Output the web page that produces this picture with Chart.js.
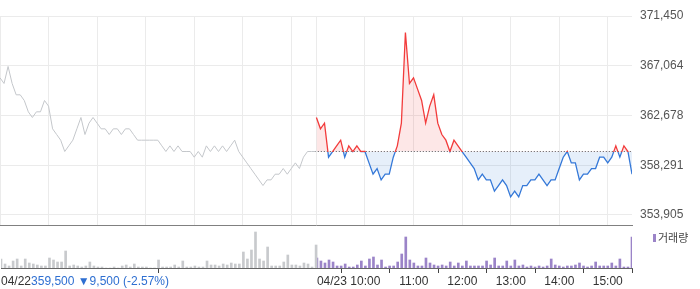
<!DOCTYPE html>
<html>
<head>
<meta charset="utf-8">
<script src="https://cdn.jsdelivr.net/npm/chart.js@4"></script>
<style>
  body { margin: 0; background: #fff; }
  #wrap { position: relative; width: 700px; height: 289px; overflow: hidden; }
  canvas { position: absolute; left: 0; }
</style>
</head>
<body>
<div id="wrap">
  <canvas id="priceChart" width="700" height="226" style="top:0"></canvas>
  <canvas id="volChart" width="700" height="63" style="top:226px"></canvas>
</div>
<script>
// --- data ---
const prevDate = "04/22";
const todayDate = "04/23";
const baseClose = 359500;
const quoteText = "359,500 \u25BC9,500 (-2.57%)";
const legendText = "거래량";
const yTicks = [353905, 358291, 362678, 367064, 371450];
const hourLabels = ["10:00", "11:00", "12:00", "13:00", "14:00", "15:00"];

// 5-minute samples, 09:00 -> 15:30
const prevPrice = [
  366000, 365500, 367000, 365500, 364500, 364500, 364000, 363000, 362500, 363000,
  363000, 364000, 363500, 361500, 361000, 360500, 359500, 360000, 360500, 361500,
  362500, 361000, 362000, 362500, 362000, 361500, 361500, 361000, 361500, 361500,
  361000, 361500, 361500, 361000, 360500, 360500, 360500, 360500, 360500, 360500,
  360000, 359500, 360000, 359500, 360000, 359500, 359500, 359500, 359000, 359500,
  359000, 360000, 359500, 360000, 359500, 360000, 359500, 360000, 360500, 359500,
  359000, 358500, 358000, 357500, 357000, 356500, 357000, 357000, 357500, 357500,
  358000, 357500, 358000, 358500, 358000, 359000, 359500, 359500, 359500
];
const todayPrice = [
  362500, 361500, 362000, 359000, 359500, 360000, 360500, 359000, 360000, 359500,
  360000, 359500, 359500, 358500, 357500, 358000, 357000, 357500, 357500, 359000,
  360000, 362000, 370000, 365500, 366000, 365000, 364000, 362000, 363500, 364500,
  362000, 361000, 360500, 359500, 360500, 360000, 359500, 359000, 358500, 358000,
  357000, 357500, 357000, 357000, 356000, 356500, 357000, 356500, 355500, 356000,
  355500, 356500, 356500, 357000, 357000, 357500, 357000, 356500, 357000, 357000,
  358000, 359000, 359500, 358500, 358500, 357000, 357500, 357500, 358000, 358000,
  359000, 359000, 358500, 359000, 360000, 359000, 360000, 359500, 357500
];
const prevVolume = [
  2250, 1000, 500, 1750, 2250, 500, 2250, 1250, 1000, 750,
  500, 500, 2500, 2000, 1500, 1500, 4250, 500, 750, 500,
  250, 500, 1500, 500, 250, 250, 0, 0, 250, 0,
  500, 750, 250, 1000, 250, 250, 250, 0, 0, 2000,
  250, 250, 250, 750, 250, 1750, 250, 250, 500, 250,
  250, 1750, 750, 750, 500, 1000, 750, 1250, 1000, 1000,
  4000, 2250, 4500, 9000, 2250, 1750, 5250, 500, 500, 500,
  1500, 3250, 750, 750, 500, 1250, 1000, 250, 5750
];
const todayVolume = [
  2500, 1750, 1250, 2000, 1500, 500, 500, 1000, 250, 250,
  750, 1750, 500, 2250, 2750, 750, 2000, 250, 500, 500,
  1500, 3500, 7750, 2000, 1250, 500, 500, 2500, 1250, 750,
  500, 750, 500, 1500, 500, 1250, 500, 1750, 500, 500,
  500, 500, 1750, 750, 2500, 500, 500, 1750, 500, 2000,
  500, 750, 250, 500, 250, 500, 250, 500, 2250, 750,
  500, 250, 500, 500, 750, 1250, 500, 250, 500, 1500,
  500, 500, 500, 1250, 500, 2250, 250, 250, 7750
];

// --- layout of the time axis (minutes) ---
const SLOT_MIN = 5;
const DAY2_START = 391;
const X_MAX = 781;
const Y_MIN = 353020;
const Y_MAX = 371450;
const VOL_MAX = 10500;

const RED = "#f23b3b";
const BLUE = "#3478d8";
const GRAY_LINE = "#c4c7cb";
const GRAY_BAR = "#c8cacd";
const PURPLE = "#9b84c8";
const GRID = "#ebebeb";
const FONT = '"Liberation Sans", Arial, sans-serif';

Chart.defaults.font.family = FONT;
Chart.defaults.font.size = 12;

const prevPts = prevPrice.map((v, i) => ({ x: i * SLOT_MIN, y: v }));
const todayPts = todayPrice.map((v, i) => ({ x: DAY2_START + i * SLOT_MIN, y: v }));
const prevVolPts = prevVolume.map((v, i) => ({ x: i * SLOT_MIN, y: v }));
const todayVolPts = todayVolume.map((v, i) => ({ x: DAY2_START + i * SLOT_MIN, y: v }));
const basePts = [{ x: 389, y: baseClose }, { x: X_MAX, y: baseClose }];

const prevHours = [0, 60, 120, 180, 240, 300, 360];
const todayHours = hourLabels.map((_, i) => DAY2_START + 60 * (i + 1));
const gridMinutes = prevHours.concat([DAY2_START], todayHours);

function splitColor(ctx) {
  const { chart } = ctx;
  const { chartArea, scales } = chart;
  if (!chartArea) return RED;
  const yb = scales.y.getPixelForValue(baseClose);
  const t = Math.min(1, Math.max(0, (yb - chartArea.top) / (chartArea.bottom - chartArea.top)));
  const g = chart.ctx.createLinearGradient(0, chartArea.top, 0, chartArea.bottom);
  g.addColorStop(0, RED);
  g.addColorStop(t, RED);
  g.addColorStop(t, BLUE);
  g.addColorStop(1, BLUE);
  return g;
}

new Chart(document.getElementById("priceChart"), {
  type: "line",
  data: {
    datasets: [
      {
        data: prevPts,
        borderColor: GRAY_LINE,
        borderWidth: 1,
        pointRadius: 0,
        fill: false,
      },
      {
        data: todayPts,
        borderColor: splitColor,
        borderWidth: 1.3,
        pointRadius: 0,
        fill: {
          target: { value: baseClose },
          above: "rgba(242, 59, 59, 0.12)",
          below: "rgba(52, 120, 216, 0.12)",
        },
      },
      {
        data: basePts,
        borderColor: "#555",
        borderWidth: 1,
        borderDash: [1, 2],
        pointRadius: 0,
        fill: false,
      },
    ],
  },
  options: {
    responsive: false,
    animation: false,
    layout: { padding: { top: 16, bottom: 1, left: 0, right: 0 } },
    plugins: { legend: { display: false }, tooltip: { enabled: false } },
    scales: {
      x: {
        type: "linear",
        min: 0,
        max: X_MAX,
        afterBuildTicks: (axis) => {
          axis.ticks = gridMinutes.map((v) => ({ value: v }));
        },
        afterFit: (axis) => {
          axis.height = 0;
        },
        ticks: { display: false },
        grid: { color: GRID, drawTicks: false },
        border: { color: "#808080" },
      },
      y: {
        position: "right",
        min: Y_MIN,
        max: Y_MAX,
        afterBuildTicks: (axis) => {
          axis.ticks = yTicks.map((v) => ({ value: v }));
        },
        afterFit: (axis) => {
          axis.width = 68;
          axis.paddingTop = 0;
          axis.paddingBottom = 0;
        },
        ticks: {
          padding: 8,
          color: "#555",
          callback: (v) => v.toLocaleString("en-US"),
        },
        grid: { color: GRID, drawTicks: false },
        border: { display: false },
      },
    },
  },
});

const volLabels = {
  id: "volLabels",
  afterDraw(chart) {
    const { ctx } = chart;
    const x = chart.scales.x;
    const ly = x.top + 14;
    ctx.save();
    ctx.font = "12px " + FONT;
    ctx.textBaseline = "middle";
    ctx.textAlign = "left";
    const x0 = x.getPixelForValue(0);
    ctx.fillStyle = "#333";
    ctx.fillText(prevDate, x0, ly);
    const w = ctx.measureText(prevDate).width;
    ctx.fillStyle = "#2e6fd1";
    ctx.fillText(quoteText, x0 + w, ly);
    ctx.fillStyle = "#333";
    ctx.fillText(todayDate, x.getPixelForValue(DAY2_START), ly);
    // legend
    ctx.fillStyle = PURPLE;
    ctx.fillRect(653, 8, 3, 8);
    ctx.font = '11px "Noto Sans CJK KR", ' + FONT;
    ctx.fillStyle = "#444";
    ctx.fillText(legendText, 658, 12);
    ctx.restore();
  },
};

new Chart(document.getElementById("volChart"), {
  type: "bar",
  data: {
    datasets: [
      { data: prevVolPts, backgroundColor: GRAY_BAR, barThickness: 2, grouped: false },
      { data: todayVolPts, backgroundColor: PURPLE, barThickness: 2, grouped: false },
    ],
  },
  options: {
    responsive: false,
    animation: false,
    layout: { padding: { top: 0, right: 68, left: 0, bottom: 0 } },
    plugins: { legend: { display: false }, tooltip: { enabled: false } },
    scales: {
      x: {
        type: "linear",
        min: 0,
        max: X_MAX,
        offset: false,
        afterBuildTicks: (axis) => {
          axis.ticks = [0, DAY2_START].concat(todayHours).map((v) => ({ value: v }));
        },
        afterFit: (axis) => {
          axis.height = 21;
        },
        ticks: {
          color: "#333",
          padding: 1,
          maxRotation: 0,
          autoSkip: false,
          callback: (v) => {
            const i = todayHours.indexOf(v);
            return i >= 0 ? hourLabels[i] : "";
          },
        },
        grid: { drawOnChartArea: false, drawTicks: true, tickLength: 5, tickColor: "#444" },
        border: { color: "#666" },
      },
      y: {
        display: false,
        min: 0,
        max: VOL_MAX,
      },
    },
  },
  plugins: [volLabels],
});
</script>
</body>
</html>
